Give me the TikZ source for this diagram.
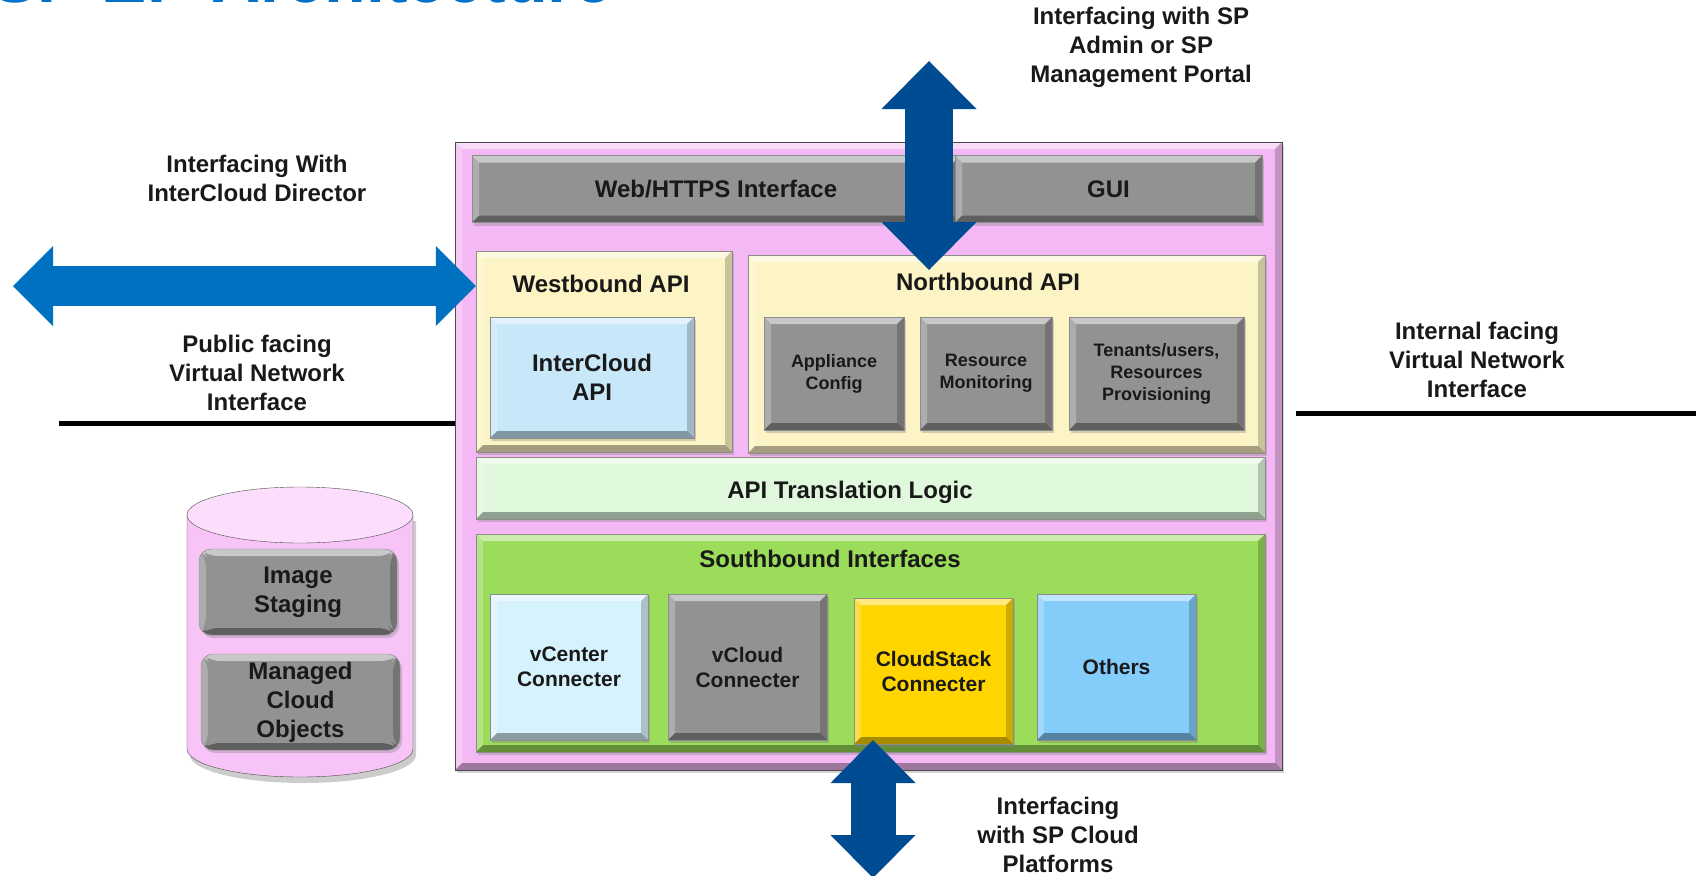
\documentclass[tikz,border=0pt]{standalone}
\usepackage{fontspec}
\setmainfont{Liberation Sans}
\usetikzlibrary{arrows.meta,shadows,scopes}

\definecolor{pinkbg}{RGB}{244,184,244}
\definecolor{boxgray}{RGB}{146,146,146}
\definecolor{apiyellow}{RGB}{252,244,196}
\definecolor{icblue}{RGB}{200,232,250}
\definecolor{transgreen}{RGB}{224,248,220}
\definecolor{sbgreen}{RGB}{155,220,90}
\definecolor{vcenterblue}{RGB}{214,242,252}
\definecolor{csyellow}{RGB}{255,213,0}
\definecolor{otherblue}{RGB}{132,204,250}
\definecolor{darkarrow}{RGB}{0,76,147}
\definecolor{lightarrow}{RGB}{0,112,192}
\definecolor{titleblue}{RGB}{0,112,200}
\definecolor{dbpink}{RGB}{248,196,248}
\definecolor{dbtop}{RGB}{252,222,252}

% light top/left and dark bottom/right edges of a box
\newcommand{\bevelfill}{%
  \path (path picture bounding box.north west) coordinate (bnw)
        (path picture bounding box.north east) coordinate (bne)
        (path picture bounding box.south west) coordinate (bsw)
        (path picture bounding box.south east) coordinate (bse);
  \fill[white,opacity=.5] (bnw) -- (bne) -- ([shift={(-7pt,-7pt)}]bne) -- ([shift={(7pt,-7pt)}]bnw) -- cycle;
  \fill[white,opacity=.25] (bnw) -- ([shift={(7pt,-7pt)}]bnw) -- ([shift={(7pt,7pt)}]bsw) -- (bsw) -- cycle;
  \fill[black,opacity=.35] (bsw) -- (bse) -- ([shift={(-7pt,7pt)}]bse) -- ([shift={(7pt,7pt)}]bsw) -- cycle;
  \fill[black,opacity=.2] (bne) -- (bse) -- ([shift={(-7pt,7pt)}]bse) -- ([shift={(-7pt,-7pt)}]bne) -- cycle;
}

\begin{document}
\begin{tikzpicture}[x=1pt, y=-1pt,
    lbl/.style={font=\bfseries\fontsize{24}{29}\selectfont, align=center, text=black!90},
    sml/.style={font=\bfseries\fontsize{18}{22}\selectfont, align=center, text=black!90},
    conn/.style={font=\bfseries\fontsize{21}{25}\selectfont, align=center, text=black!90},
    box/.style={rectangle, draw=black!45, thin, inner sep=0pt, path picture={\bevelfill},
        drop shadow={shadow xshift=2pt, shadow yshift=-3pt, opacity=.35}},
    G/.style={box, fill=boxgray},
    netline/.style={line width=5pt, black},
    bigarrow/.style n args={3}{line width=#1,
        {Triangle[width=#2,length=#3,line width=0pt]}-{Triangle[width=#2,length=#3,line width=0pt]}},
]
\useasboundingbox (0,0) rectangle (1696,875);
\clip (0,0) rectangle (1696,875);

\node[anchor=base west, inner sep=0pt, text=titleblue, font=\bfseries\fontsize{68}{70}\selectfont]
    (title) at (-8,3) {SP EP Architecture};

%%%
% the appliance
\node[box, fill=pinkbg, draw=black!70, minimum width=827pt, minimum height=628pt] (app) at (868.5,456) {};

\node[G, lbl, minimum width=488pt, minimum height=67pt] (web) at (716,189) {Web/HTTPS Interface};
\node[G, lbl, minimum width=307pt, minimum height=67pt] (gui) at (1108.5,189) {GUI};

% westbound
\node[box, fill=apiyellow, minimum width=256pt, minimum height=201pt] (wb) at (604,351.5) {};
\node[lbl] (wbtitle) at (601,284) {Westbound API};
\node[box, fill=icblue, lbl, minimum width=204pt, minimum height=121pt] (icapi) at (592,377.5) {InterCloud\\API};

% northbound
\node[box, fill=apiyellow, minimum width=517pt, minimum height=198pt] (nb) at (1006.5,354) {};
\node[lbl] (nbtitle) at (988,282) {Northbound API};
\node[G, sml, minimum width=140pt, minimum height=113pt] (appcfg) at (834,373.5) {Appliance\\Config};
\node[G, sml, minimum width=132pt, minimum height=113pt] (resmon) at (986,373.5) {Resource\\Monitoring};
\node[G, sml, minimum width=175pt, minimum height=113pt] (tenants) at (1156.5,373.5) {Tenants/users,\\Resources\\Provisioning};

\node[box, fill=transgreen, minimum width=789pt, minimum height=62pt] (trans) at (870.5,488) {};
\node[lbl] (transtxt) at (850,492) {API Translation Logic};

% southbound
\node[box, fill=sbgreen, minimum width=789pt, minimum height=218pt] (sb) at (870.5,643) {};
\node[lbl] (sbtitle) at (830,559) {Southbound Interfaces};
\node[box, fill=vcenterblue, conn, minimum width=158pt, minimum height=146pt] (vcenter) at (569,667) {vCenter\\Connecter};
\node[G, conn, minimum width=159pt, minimum height=146pt] (vcloud) at (747.5,667) {vCloud\\Connecter};
\node[box, fill=csyellow, conn, minimum width=159pt, minimum height=146pt] (cstack) at (933.5,671) {CloudStack\\Connecter};
\node[box, fill=otherblue, conn, minimum width=159pt, minimum height=146pt] (others) at (1116.5,667) {Others};

%%%
% local store
\fill[black,opacity=.2] (190,521) -- (190,755) arc[start angle=180, end angle=0, x radius=113, y radius=28] -- (416,521) -- cycle;
\draw[black!70, thin, fill=dbpink] (187,515) -- (187,749) arc[start angle=180, end angle=0, x radius=113, y radius=28]
    -- (413,515) -- cycle;
\draw[black!70, thin, fill=dbtop] (300,515) ellipse[x radius=113, y radius=28];
\node[G, rounded corners=12pt, lbl, minimum width=198pt, minimum height=86pt] (staging) at (298,592) {Image\\Staging};
\node[G, rounded corners=12pt, lbl, minimum width=199pt, minimum height=96pt] (managed) at (300.5,702) {Managed\\Cloud\\Objects};

%%%
% networks
\coordinate (pubL) at (59,423);
\draw[netline] (pubL) -- (pubL -| app.west);
\coordinate (intL) at (1296,413);
\coordinate (intR) at (1696,413);
\draw[netline] (intL) -- (intR);

% interfaces
\coordinate (adminTip) at (929,61);
\coordinate (nbTip) at (929,270);
\coordinate (icdTip) at (13,286);
\coordinate (csTip) at (873,740);
\coordinate (cloudTip) at (873,878);
{[draw=darkarrow, fill=darkarrow]
    \draw[bigarrow={48pt}{95pt}{48pt}] (adminTip) -- (nbTip);
    \draw[bigarrow={45pt}{85pt}{43pt}] (csTip) -- (cloudTip);
}
\draw[draw=lightarrow, fill=lightarrow, bigarrow={40pt}{80pt}{40pt}] (icdTip) -- (icdTip -| wb.west);

\node[lbl] (icdlbl) at (257,178.5) {Interfacing With\\InterCloud Director};
\node[lbl] (publbl) at (257,372.5) {Public facing\\Virtual Network\\Interface};
\node[lbl] (adminlbl) at (1141,47) {Interfacing with SP\\Admin or SP\\Management Portal};
\node[lbl] (intlbl) at (1477,359.5) {Internal facing\\Virtual Network\\Interface};
\node[lbl] (cloudlbl) at (1058,835) {Interfacing\\with SP Cloud\\Platforms};
\end{tikzpicture}
\end{document}
